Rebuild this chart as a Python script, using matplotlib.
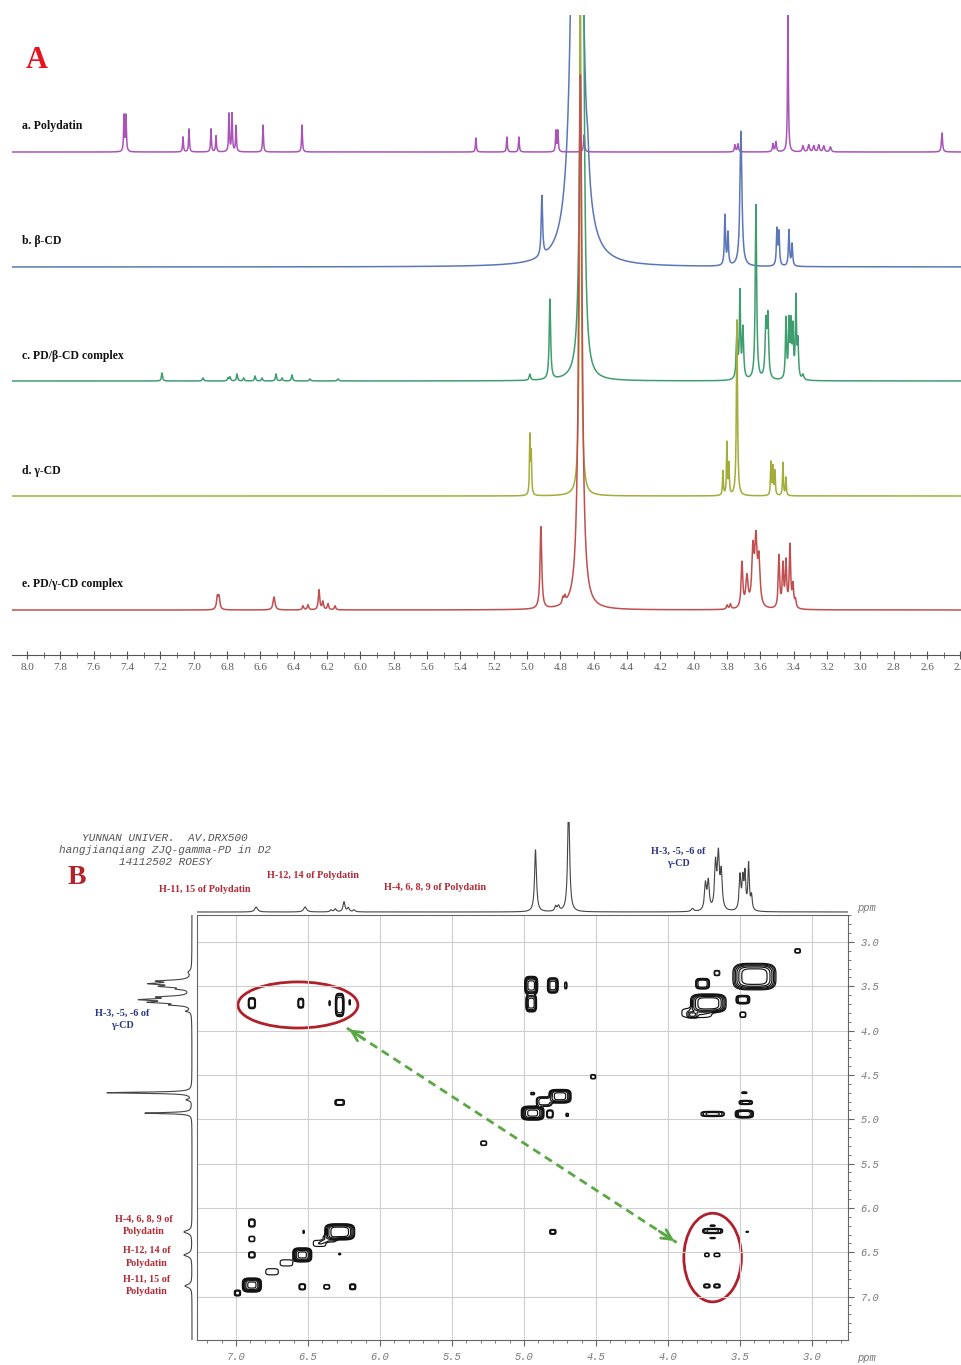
import numpy as np
import matplotlib.pyplot as plt
from matplotlib.patches import Ellipse
from matplotlib.ticker import MultipleLocator, FormatStrFormatter

W, H = 961, 1365

# ---------------- panel A: 1H NMR stack, peaks = (ppm, height, half width) ----------------
labels_a = ['a. Polydatin', 'b. β-CD', 'c. PD/β-CD complex', 'd. γ-CD', 'e. PD/γ-CD complex']

polydatin = [(7.418, 36, .003), (7.406, 36, .003), (7.064, 15, .003), (7.028, 23, .003),
             (6.896, 23, .003), (6.866, 16, .003), (6.788, 38, .003), (6.770, 38, .003),
             (6.746, 26, .003), (6.584, 27, .003), (6.350, 27, .003), (5.307, 14, .003),
             (5.121, 15, .003), (5.049, 15, .003), (4.827, 21, .003), (4.815, 21, .003),
             (4.658, 17, .004), (3.753, 7, .004), (3.735, 8, .004), (3.525, 8, .004),
             (3.507, 10, .004), (3.435, 140, .003), (3.345, 6, .005), (3.31, 7, .005),
             (3.28, 6, .005), (3.25, 7, .005), (3.22, 6, .005), (3.18, 5, .005), (2.511, 19, .004)]

beta_cd = [(4.911, 60, .005), (4.70, 1300, .02), (4.635, 22, .008), (3.813, 50, .004),
           (3.795, 32, .004), (3.717, 135, .007), (3.501, 36, .004), (3.489, 33, .004),
           (3.429, 36, .004), (3.41, 22, .004)]

pd_beta = [(7.19, 8, .004), (6.944, 3, .005), (6.794, 3, .004), (6.782, 4, .004), (6.74, 7, .004),
           (6.70, 3, .004), (6.632, 5, .004), (6.59, 3, .004), (6.506, 7, .004), (6.47, 3, .004),
           (6.41, 6, .004), (6.302, 2, .005), (6.134, 2, .005), (4.983, 6, .005),
           (4.863, 80, .005), (4.67, 1100, .008), (3.741, 45, .005), (3.723, 85, .004),
           (3.705, 50, .005), (3.627, 175, .005), (3.567, 55, .006), (3.555, 58, .005),
           (3.447, 60, .004), (3.429, 55, .004), (3.417, 52, .004), (3.405, 48, .004),
           (3.387, 80, .004), (3.375, 35, .004), (3.345, 5, .006)]

gamma_cd = [(4.983, 58, .003), (4.975, 40, .003), (4.68, 500, .006), (3.825, 24, .003),
            (3.801, 52, .003), (3.789, 30, .003), (3.741, 176, .004), (3.537, 33, .003),
            (3.525, 28, .003), (3.513, 24, .003), (3.465, 33, .003), (3.447, 18, .003)]

pd_gamma = [(6.858, 12, .006), (6.848, 12, .006), (6.518, 13, .007), (6.344, 4, .005),
            (6.314, 5, .005), (6.248, 20, .005), (6.225, 8, .005), (6.194, 6, .005),
            (6.152, 4, .005), (4.917, 82, .006), (4.785, 6, .005), (4.773, 6, .005),
            (4.68, 535, .012), (3.80, 4, .005), (3.78, 5, .005), (3.711, 45, .006),
            (3.681, 30, .008), (3.645, 55, .008), (3.627, 62, .008), (3.609, 45, .008),
            (3.489, 52, .005), (3.465, 42, .005), (3.447, 45, .005), (3.423, 62, .005),
            (3.405, 22, .005), (3.39, 8, .005)]

spectra_a = [polydatin, beta_cd, pd_beta, gamma_cd, pd_gamma]
colors_a = ['#a955b8', '#5b77b8', '#3f9e70', '#a2ad3a', '#c24f50']
offsets_a = [503, 388, 274, 159, 45]
label_y_a = [126, 241, 356, 471, 584]

# ---------------- panel B: ROESY ----------------
# 1D projection on top (ppm, height, half width)
top_proj = [(6.86, 5, .012), (6.52, 5, .012), (6.34, 2, .008), (6.31, 3, .008), (6.25, 10, .008),
            (6.22, 4, .008), (6.18, 2, .008), (4.92, 62, .008), (4.78, 5, .008), (4.76, 5, .008),
            (4.69, 110, .008), (3.83, 3, .01), (3.74, 26, .008), (3.72, 28, .008),
            (3.67, 45, .008), (3.65, 52, .008), (3.63, 36, .008), (3.50, 34, .007),
            (3.48, 30, .007), (3.465, 34, .006), (3.44, 46, .006), (3.42, 14, .006)]

# 1D projection on the left (ppm, length, half width)
left_proj = [(3.34, 3, .02), (3.44, 30, .012), (3.47, 36, .012), (3.50, 26, .012),
             (3.53, 10, .01), (3.62, 28, .012), (3.65, 44, .012), (3.68, 36, .012),
             (3.71, 16, .01), (3.78, 5, .01), (4.70, 85, .008), (4.78, 5, .01),
             (4.93, 47, .008), (6.27, 8, .02), (6.53, 8, .02), (6.88, 7, .02)]

# cross peaks (f2 ppm, f1 ppm, half width f2, half width f1, intensity)
cross_peaks = [
    (6.89, 3.69, .022, .055, 1.0), (6.55, 3.69, .018, .05, 0.9), (6.28, 3.71, .025, .11, 1.5),
    (6.35, 3.69, .004, .03, 0.5), (6.21, 3.68, .004, .03, 0.5), (6.28, 4.81, .03, .03, 0.9),
    (5.28, 5.27, .02, .025, 0.6), (4.52, 4.52, .018, .025, 0.5), (3.10, 3.10, .02, .025, 0.5),
    (4.95, 3.49, .035, .08, 3.0), (4.80, 3.49, .03, .07, 2.0), (4.71, 3.49, .008, .04, 0.5),
    (4.95, 3.69, .03, .08, 2.0), (4.94, 4.93, .06, .06, 4.0), (4.82, 4.94, .02, .04, 1.0),
    (4.75, 4.74, .06, .06, 3.0), (4.70, 4.95, .01, .02, 0.4), (4.94, 4.71, .015, .015, 0.4),
    (4.86, 4.80, .05, .05, 0.8),
    (3.40, 3.39, .115, .115, 3.5), (3.72, 3.69, .095, .08, 3.5), (3.76, 3.47, .04, .05, 1.5),
    (3.48, 3.65, .04, .04, 1.5), (3.48, 3.82, .02, .03, 0.6), (3.83, 3.82, .03, .03, 0.8),
    (3.66, 3.35, .02, .03, 0.5), (3.80, 3.80, .12, .06, 0.35),
    (3.69, 4.94, .07, .025, 1.2), (3.47, 4.94, .05, .035, 2.5), (3.46, 4.81, .04, .02, 1.2),
    (3.47, 4.70, .02, .01, 0.4),
    (6.89, 6.17, .02, .04, 1.0), (6.89, 6.35, .02, .03, 0.6), (6.89, 6.53, .02, .03, 1.0),
    (6.89, 6.87, .05, .06, 4.0), (6.99, 6.96, .02, .03, 0.8), (6.54, 6.53, .05, .06, 4.0),
    (6.28, 6.27, .08, .07, 3.5), (6.75, 6.72, .05, .04, 0.35), (6.65, 6.62, .05, .04, 0.35),
    (6.42, 6.40, .05, .04, 0.35), (6.35, 6.35, .05, .04, 0.35),
    (6.54, 6.89, .02, .03, 1.0), (6.37, 6.89, .02, .025, 0.6), (6.19, 6.89, .02, .03, 0.8),
    (6.53, 6.27, .005, .02, 0.4), (6.28, 6.52, .008, .01, 0.4), (4.80, 6.27, .02, .025, 0.8),
    (3.69, 6.26, .06, .025, 1.2), (3.69, 6.20, .02, .008, 0.4), (3.69, 6.34, .02, .008, 0.4),
    (3.73, 6.53, .015, .02, 0.6), (3.66, 6.53, .02, .02, 0.6), (3.73, 6.88, .02, .02, 0.8),
    (3.66, 6.88, .02, .02, 0.8), (3.45, 6.27, .01, .006, 0.4),
]
contour_levels = [0.2, 0.35, 0.6, 1.0, 1.6, 2.5, 3.6]

header_b = ['YUNNAN UNIVER.  AV.DRX500', 'hangjianqiang ZJQ-gamma-PD in D2', '14112502 ROESY']


def lorentz(x, peaks):
    y = np.zeros_like(x)
    for p0, h, w in peaks:
        y += h * w ** 2 / ((x - p0) ** 2 + w ** 2)
    return y


def rect(x0, y0, x1, y1):
    return [x0 / W, 1 - y1 / H, (x1 - x0) / W, (y1 - y0) / H]


fig = plt.figure(figsize=(W / 100, H / 100), dpi=100)
fig.patch.set_facecolor('white')


def ftext(x, y, s, **kw):
    fig.text(x / W, 1 - y / H, s, **kw)


serif = 'Liberation Serif'
mono = 'Liberation Mono'

# ---- panel A ----
axA = fig.add_axes(rect(12, 15, 961, 655))
ppm = np.linspace(2.3, 8.2, 24000)
for peaks, col, off in zip(spectra_a, colors_a, offsets_a):
    axA.plot(ppm, off + lorentz(ppm, peaks), color=col, lw=1.1)
axA.set_xlim(8.09, 2.397)
axA.set_ylim(0, 640)
for s in ['left', 'right', 'top']:
    axA.spines[s].set_visible(False)
axA.spines['bottom'].set_color('#555555')
axA.set_yticks([])
axA.xaxis.set_major_locator(MultipleLocator(0.2))
axA.xaxis.set_minor_locator(MultipleLocator(0.1))
axA.xaxis.set_major_formatter(FormatStrFormatter('%.1f'))
axA.tick_params(axis='x', which='major', direction='inout', length=6, color='#555555',
                labelsize=8, labelcolor='#5a5a5a', pad=3)
axA.tick_params(axis='x', which='minor', direction='inout', length=4, color='#555555')
for t in axA.get_xticklabels():
    t.set_fontfamily(serif)

ftext(37, 60, 'A', fontsize=22, fontweight='bold', color='#e8141e', family=serif,
      ha='center', va='center')
for lab, ly in zip(labels_a, label_y_a):
    ftext(22, ly, lab, fontsize=8.5, fontweight='bold', family=serif, va='center', color='#111111')

# ---- panel B ----
xl = (7.271, 2.75)
yl = (7.49, 2.695)
axB = fig.add_axes(rect(197, 915, 848, 1340))
xg = np.linspace(7.35, 2.65, 1100)
yg = np.linspace(2.6, 7.6, 900)
X, Y = np.meshgrid(xg, yg)
Z = np.zeros_like(X)
for px, py, sx, sy, amp in cross_peaks:
    Z += amp * np.exp(-(((X - px) / sx) ** 4 + ((Y - py) / sy) ** 4))
axB.contour(X, Y, Z, levels=contour_levels, colors='#111111', linewidths=0.85)
axB.set_xlim(*xl)
axB.set_ylim(*yl)
axB.xaxis.set_major_locator(MultipleLocator(0.5))
axB.xaxis.set_minor_locator(MultipleLocator(0.1))
axB.yaxis.set_major_locator(MultipleLocator(0.5))
axB.yaxis.set_minor_locator(MultipleLocator(0.1))
axB.xaxis.set_major_formatter(FormatStrFormatter('%.1f'))
axB.yaxis.set_major_formatter(FormatStrFormatter('%.1f'))
axB.yaxis.tick_right()
axB.grid(True, which='major', color='#cfcfcf', lw=0.8)
for s in axB.spines.values():
    s.set_color('#666666')
    s.set_linewidth(0.8)
axB.tick_params(which='major', direction='out', length=4, color='#666666', labelsize=7.5,
                labelcolor='#777777', pad=5)
axB.tick_params(which='minor', direction='out', length=2, color='#666666')
for t in axB.get_xticklabels() + axB.get_yticklabels():
    t.set_fontfamily(mono)
    t.set_fontstyle('italic')
ftext(866, 1358, 'ppm', fontsize=7.5, family=mono, style='italic', color='#777777',
      ha='center', va='center')
ftext(866, 908, 'ppm', fontsize=7.5, family=mono, style='italic', color='#777777',
      ha='center', va='center')

# red ellipses + green arrow
red = '#b0202a'
axB.add_patch(Ellipse((6.57, 3.71), 0.833, 0.52, fill=False, ec=red, lw=2))
axB.add_patch(Ellipse((3.69, 6.56), 0.40, 1.0, fill=False, ec=red, lw=2))
green = '#5aa845'
a0 = (6.23, 3.97)
a1 = (3.94, 6.39)
axB.plot([a0[0], a1[0]], [a0[1], a1[1]], color=green, lw=2, ls=(0, (3, 2)))
for tip, other in [(a0, a1), (a1, a0)]:
    back = (tip[0] + 0.06 * (other[0] - tip[0]), tip[1] + 0.06 * (other[1] - tip[1]))
    axB.annotate('', xy=tip, xytext=back,
                 arrowprops=dict(arrowstyle='->', color=green, lw=2, mutation_scale=18))

# top projection
axT = fig.add_axes(rect(197, 822, 848, 915))
axT.plot(ppm, 3 + lorentz(ppm, top_proj), color='#444444', lw=0.8)
axT.set_xlim(*xl)
axT.set_ylim(0, 93)
axT.axis('off')

# left projection
axL = fig.add_axes(rect(100, 915, 197, 1340))
ppm_v = np.linspace(2.6, 7.6, 12000)
axL.plot(5 + lorentz(ppm_v, left_proj), ppm_v, color='#444444', lw=0.8)
axL.set_ylim(*yl)
axL.set_xlim(97, 0)
axL.axis('off')

# header and annotations
for i, line in enumerate(header_b):
    ftext(165, 838 + 12 * i, line, fontsize=8, family=mono, style='italic', color='#555555',
          ha='center', va='center')
ftext(77, 878, 'B', fontsize=20, fontweight='bold', color='#b3232b', family=serif,
      ha='center', va='center')

dred = '#b22a35'
blue = '#2a3585'
ann = dict(fontsize=7.3, fontweight='bold', family=serif, ha='center', va='center')
ftext(205, 890, 'H-11, 15 of Polydatin', color=dred, **ann)
ftext(313, 876, 'H-12, 14 of Polydatin', color=dred, **ann)
ftext(435, 888, 'H-4, 6, 8, 9 of Polydatin', color=dred, **ann)
ftext(678, 851, 'H-3, -5, -6 of', color=blue, **ann)
ftext(678, 863, 'γ-CD', color=blue, **ann)
ftext(122, 1013, 'H-3, -5, -6 of', color=blue, **ann)
ftext(122, 1025, 'γ-CD', color=blue, **ann)
ftext(144, 1219, 'H-4, 6, 8, 9 of', color=dred, **ann)
ftext(144, 1232, 'Polydatin', color=dred, **ann)
ftext(147, 1250, 'H-12, 14 of', color=dred, **ann)
ftext(147, 1263, 'Polydatin', color=dred, **ann)
ftext(147, 1279, 'H-11, 15 of', color=dred, **ann)
ftext(147, 1292, 'Polydatin', color=dred, **ann)

fig.savefig('out.png', dpi=100)
